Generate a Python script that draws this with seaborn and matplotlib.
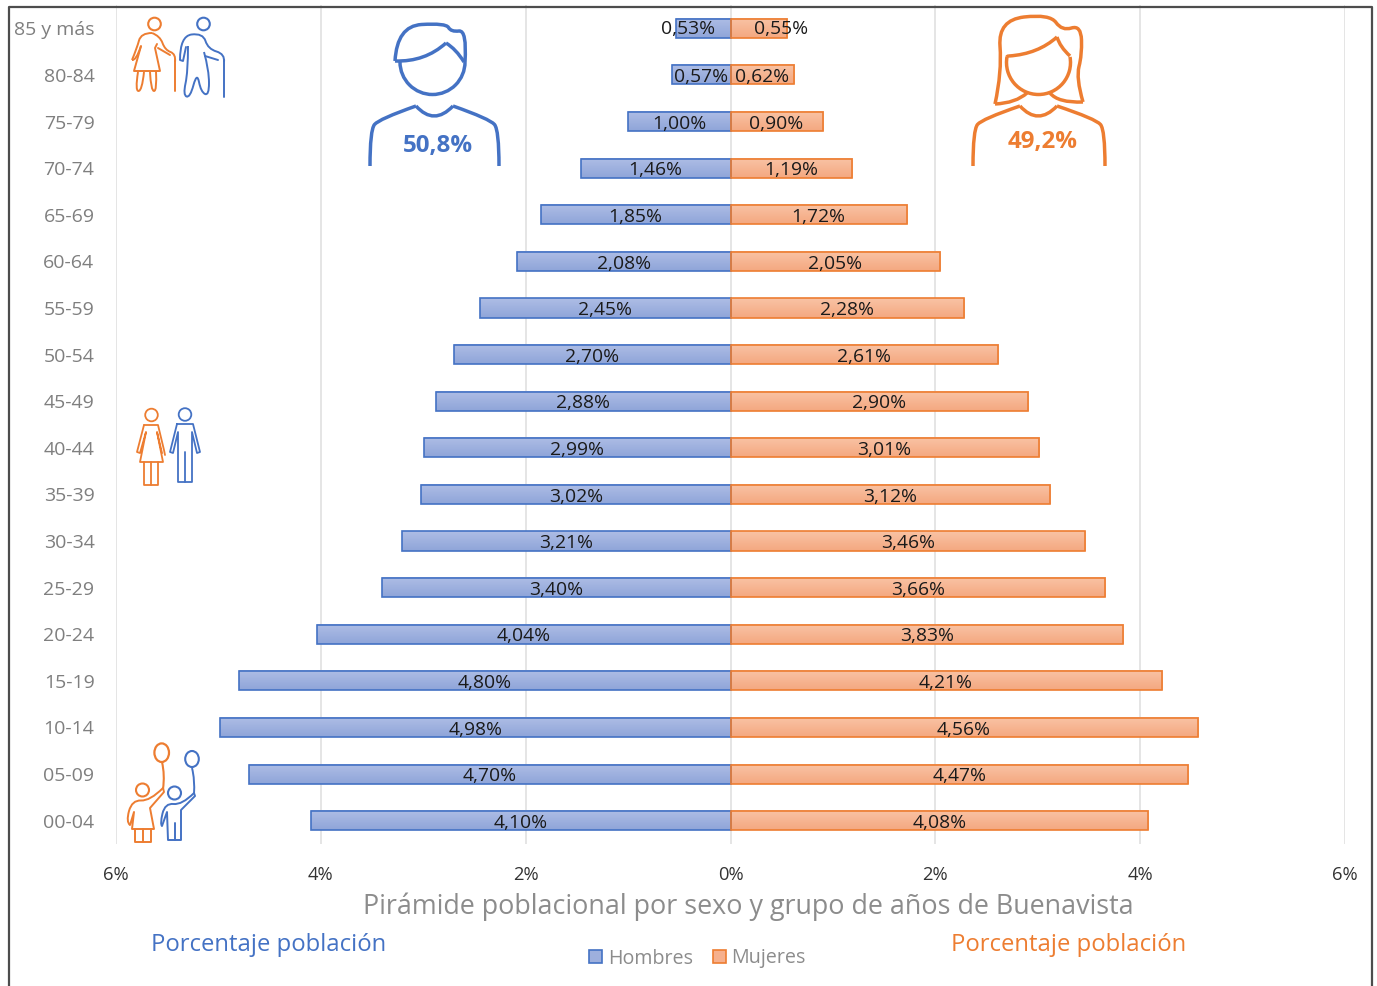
import numpy as np
import pandas as pd
import matplotlib
matplotlib.use("Agg")
import matplotlib.pyplot as plt
from matplotlib.path import Path
from matplotlib.patches import PathPatch, Ellipse, Arc
from matplotlib.colors import LinearSegmentedColormap
import seaborn as sns

grupos = ["85 y más", "80-84", "75-79", "70-74", "65-69", "60-64", "55-59", "50-54", "45-49",
          "40-44", "35-39", "30-34", "25-29", "20-24", "15-19", "10-14", "05-09", "00-04"]
hombres = [0.53, 0.57, 1.00, 1.46, 1.85, 2.08, 2.45, 2.70, 2.88,
           2.99, 3.02, 3.21, 3.40, 4.04, 4.80, 4.98, 4.70, 4.10]
mujeres = [0.55, 0.62, 0.90, 1.19, 1.72, 2.05, 2.28, 2.61, 2.90,
           3.01, 3.12, 3.46, 3.66, 3.83, 4.21, 4.56, 4.47, 4.08]
ticks = [-6, -4, -2, 0, 2, 4, 6]

AZUL, NARANJA = "#4472C4", "#ED7D31"
AZUL_F, NARANJA_F = "#9DAFDD", "#F6B08D"
GRIS = "#8C8C8C"

sns.set_theme(style="white")
plt.rcParams["font.family"] = ["Open Sans", "DejaVu Sans"]

W, H = 1377, 986
fig = plt.figure(figsize=(W / 100, H / 100), dpi=100, facecolor="white")
ax = fig.add_axes([116 / W, 1 - 844 / H, (1345 - 116) / W, (844 - 5) / H])

df = pd.DataFrame({
    "Grupo": grupos * 2,
    "Valor": [-v for v in hombres] + mujeres,
    "Sexo": ["Hombres"] * len(grupos) + ["Mujeres"] * len(grupos),
})
sns.barplot(data=df, y="Grupo", x="Valor", hue="Sexo", order=grupos, dodge=False, width=0.41,
            saturation=1, palette={"Hombres": AZUL_F, "Mujeres": NARANJA_F}, ax=ax, zorder=3)
ylim = ax.get_ylim()

grad = {AZUL: LinearSegmentedColormap.from_list("a", ["#AEBDE5", "#8FA5D9"]),
        NARANJA: LinearSegmentedColormap.from_list("n", ["#F9C3A5", "#F4A880"])}
rampa = np.linspace(0, 1, 32)[:, None]

for cont, col, vals in zip(ax.containers, (AZUL, NARANJA), (hombres, mujeres)):
    for p in cont:
        x0, y0, w, h = p.get_x(), p.get_y(), p.get_width(), p.get_height()
        # el eje y está invertido: y0 es el borde superior de la barra
        ax.imshow(rampa, extent=[x0, x0 + w, y0 + h, y0], origin="upper", cmap=grad[col],
                  aspect="auto", interpolation="bilinear", zorder=2.5)
        p.set_facecolor("none")
        p.set_edgecolor(col)
        p.set_linewidth(1.2)
    labs = ax.bar_label(cont, labels=[f"{v:.2f}%".replace(".", ",") for v in vals],
                        label_type="center", fontsize=13.9, color="#1a1a1a", zorder=5)
    for t in labs:
        t.xyann = (t.xyann[0], t.xyann[1] - 1.6)
    labs[0].xyann = ((-11 if col == AZUL else 16), -0.6)

ax.set_ylim(ylim)
ax.set_xlim(-6, 6)
ax.set_xticks(ticks)
ax.set_xticklabels([f"{abs(t)}%" for t in ticks], fontsize=13.2, color="#333333")
ax.tick_params(axis="x", length=0, pad=16)
ax.tick_params(axis="y", length=0, pad=15.5, labelsize=14, labelcolor="#7F7F7F")
ax.set_xlabel("")
ax.set_ylabel("")
ax.xaxis.grid(True, color="#E0E0E0", linewidth=1.2)
ax.set_axisbelow(True)
for s in ax.spines.values():
    s.set_visible(False)

sns.move_legend(ax, "center", bbox_to_anchor=(697.5 / W, 1 - 958.5 / H),
                bbox_transform=fig.transFigure, ncol=2, frameon=False, title=None,
                fontsize=14.2, handlelength=0.66, handleheight=0.66, handletextpad=0.3,
                columnspacing=1.0, labelcolor=GRIS)
for hd, col in zip(ax.get_legend().legend_handles, (AZUL, NARANJA)):
    hd.set_edgecolor(col)
    hd.set_linewidth(1.2)

fig.text(748.5 / W, 1 - 907 / H, "Pirámide poblacional por sexo y grupo de años de Buenavista",
         ha="center", va="center", fontsize=19.35, color=GRIS)
fig.text(269 / W, 1 - 945 / H, "Porcentaje población", ha="center", va="center", fontsize=17.2, color=AZUL)
fig.text(1068.5 / W, 1 - 945 / H, "Porcentaje población", ha="center", va="center", fontsize=17.2, color=NARANJA)
fig.text(438 / W, 1 - 146 / H, "50,8%", ha="center", va="center", fontsize=17.4, fontweight="bold", color=AZUL)
fig.text(1042.5 / W, 1 - 142 / H, "49,2%", ha="center", va="center", fontsize=17.4, fontweight="bold", color=NARANJA)

# capa de iconos y marco en coordenadas de imagen
ov = fig.add_axes([0, 0, 1, 1], facecolor="none")
ov.set_xlim(0, W)
ov.set_ylim(H, 0)
ov.axis("off")

def curva(pts, col, lw=1.5):
    pts = [np.array(p, float) for p in pts]
    v = [pts[0]]
    c = [Path.MOVETO]
    n = len(pts)
    for i in range(1, n - 1):
        fin = pts[-1] if i == n - 2 else (pts[i] + pts[i + 1]) / 2
        v += [pts[i], fin]
        c += [Path.CURVE3, Path.CURVE3]
    ov.add_patch(PathPatch(Path(v, c), fill=False, edgecolor=col, linewidth=lw, capstyle="butt", joinstyle="round"))

def linea(pts, col, lw=1.5):
    ov.plot(*zip(*pts), color=col, linewidth=lw, solid_capstyle="round", solid_joinstyle="round")

def circulo(x, y, r, col, lw=1.5, ry=None):
    ov.add_patch(Ellipse((x, y), 2 * r, 2 * (ry or r), fill=False, edgecolor=col, linewidth=lw))

# hombre grande
LW = 2.5
curva([(395, 61), (397, 26), (446, 23), (451, 32), (467, 30), (465, 62)], AZUL, LW)
curva([(395, 61), (425, 62), (446, 43)], AZUL, LW)
curva([(446, 43), (456, 49), (464, 62)], AZUL, LW)
ov.add_patch(Arc((432.5, 62), 65, 65, theta1=0, theta2=180, edgecolor=AZUL, linewidth=LW))
curva([(370, 166), (370, 130), (379, 119), (416, 106)], AZUL, LW)
curva([(416, 106), (434, 126), (453, 106)], AZUL, LW)
curva([(453, 106), (490, 119), (499, 130), (499, 166)], AZUL, LW)
# mujer grande
curva([(995, 104), (1002, 72), (998, 20), (1050, 14), (1062, 31), (1081, 25), (1082, 55), (1076, 78), (1083, 102)], NARANJA, LW)
curva([(1083, 102), (1058, 103), (1050, 93)], NARANJA, LW)
curva([(995, 104), (1016, 103), (1027, 93)], NARANJA, LW)
curva([(1009, 56), (1038, 54), (1057, 37)], NARANJA, LW)
curva([(1057, 37), (1060, 47), (1070, 56)], NARANJA, LW)
ov.add_patch(Arc((1038.5, 62.5), 64, 64, theta1=-10, theta2=190, edgecolor=NARANJA, linewidth=LW))
curva([(1007, 57), (1007, 56), (1009, 56)], NARANJA, LW)
curva([(973, 166), (973, 130), (982, 119), (1020, 106)], NARANJA, LW)
curva([(1020, 106), (1038, 126), (1057, 106)], NARANJA, LW)
curva([(1057, 106), (1096, 119), (1105, 130), (1105, 166)], NARANJA, LW)

# mayores
circulo(154.5, 24, 6.3, NARANJA)
curva([(152, 33), (160, 36), (165, 50), (176, 54), (175, 62)], NARANJA, 1.4)
linea([(175, 60), (175, 91)], NARANJA, 1.4)
curva([(152, 33), (141, 33), (137, 48), (132, 60)], NARANJA, 1.4)
curva([(132, 60), (136, 61), (141, 46)], NARANJA, 1.4)
linea([(141, 46), (134, 71), (160, 71), (155, 48), (157, 44)], NARANJA, 1.4)
linea([(158, 48), (170, 55)], NARANJA, 1.4)
curva([(138, 72), (135, 91), (142, 91), (144, 72)], NARANJA, 1.4)
curva([(150, 72), (151, 91), (157, 91), (156, 71)], NARANJA, 1.4)
circulo(203.5, 24, 6.3, AZUL)
curva([(180, 60), (180, 36), (203, 33), (208, 49), (225, 54), (224, 62)], AZUL, 1.4)
linea([(224, 60), (224, 97)], AZUL, 1.4)
linea([(180, 60), (183, 61), (186, 47)], AZUL, 1.4)
curva([(188, 46), (188, 72), (183, 95), (190, 98), (197, 72), (201, 92), (209, 96), (209, 70), (204, 52)], AZUL, 1.4)
linea([(205, 56), (218, 60)], AZUL, 1.4)

# adultos
circulo(151.5, 415, 6.3, NARANJA, 1.3)
linea([(144, 425), (158, 425), (164, 450), (165, 455)], NARANJA, 1.3)
linea([(144, 425), (137, 452), (140, 453), (146, 432), (140, 462), (163, 462), (157, 432), (162, 453)], NARANJA, 1.3)
linea([(144, 462), (144, 485), (158, 485), (158, 462)], NARANJA, 1.3)
linea([(151, 462), (151, 485)], NARANJA, 1.3)
circulo(185, 414.5, 6.3, AZUL, 1.3)
linea([(177, 424), (193, 424), (200, 452), (197, 453), (192, 432), (192, 482), (178, 482), (178, 432), (173, 453), (170, 452), (177, 424)], AZUL, 1.3)
linea([(185, 452), (185, 482)], AZUL, 1.3)

# niños
circulo(161.7, 752.7, 7.3, NARANJA, 1.6, ry=9.3)
curva([(162, 762), (165, 775), (163, 789)], NARANJA, 1.5)
circulo(142.5, 790, 6.5, NARANJA, 1.5)
curva([(163, 788), (150, 801), (132, 800), (126, 822), (130, 825)], NARANJA, 1.4)
linea([(130, 825), (134, 812), (132, 829), (154, 829), (150, 808), (164, 792), (163, 788)], NARANJA, 1.4)
linea([(135, 829), (135, 842), (151, 842), (151, 829)], NARANJA, 1.4)
linea([(142.5, 829), (142.5, 842)], NARANJA, 1.4)
circulo(192, 759, 6.8, AZUL, 1.5, ry=8)
curva([(192, 768), (195, 780), (194, 794)], AZUL, 1.4)
circulo(174.5, 793, 6.5, AZUL, 1.5)
curva([(194, 793), (182, 805), (165, 803), (160, 824), (162, 826)], AZUL, 1.4)
linea([(162, 826), (167, 812), (168, 840), (181, 840), (181, 810), (195, 796), (194, 793)], AZUL, 1.4)
linea([(174.5, 823), (174.5, 840)], AZUL, 1.4)

# marco
ov.plot([9, 9, 1372, 1372], [H, 6.5, 6.5, H], color="#4D4D4D", linewidth=1.6, clip_on=False)

fig.savefig("out.png", dpi=100)
